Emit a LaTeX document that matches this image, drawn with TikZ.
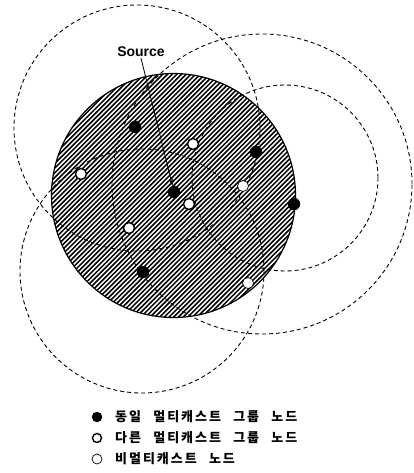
\documentclass[tikz,border=0pt]{standalone}
\usepackage{fontspec}
\usepackage{tikz}
\usetikzlibrary{arrows.meta}
\setsansfont{Liberation Sans}
\newfontfamily\kofont[LetterSpace=15,WordSpace=2.5]{Noto Sans CJK KR}

\begin{document}
\begin{tikzpicture}[
x=1pt, y=-1pt,
same/.style={circle, fill=black, draw=black, minimum size=12pt, inner sep=0pt},
other/.style={circle, fill=white, draw=black, line width=1.4pt, minimum size=11pt, inner sep=0pt},
nonmc/.style={circle, fill=white, draw=black, line width=0.7pt, minimum size=11pt, inner sep=0pt},
reach/.style={draw=black, line width=0.9pt, dash pattern=on 4pt off 3pt},
legtext/.style={anchor=west, inner sep=0pt, font=\kofont\bfseries\fontsize{13}{15}\selectfont}
]
\useasboundingbox (0,0) rectangle (414,473);
% source coverage (hatched)
\coordinate (hub) at (173.5,195.5);
\begin{scope}
\clip (hub) circle[radius=122pt];
\foreach \c in {190,194.7,...,552}
  \draw[line width=1.5pt] (\c-330,330) -- (\c-50,50);
\end{scope}
\draw[line width=1.2pt] (hub) circle[radius=122pt];
% neighbour ranges
\coordinate (ca) at (137,128);
\coordinate (cb) at (262,184);
\coordinate (cc) at (285,178);
\coordinate (cd) at (142,271);
\draw[reach] (ca) circle[radius=123pt];
\draw[reach] (cb) circle[radius=150pt];
\draw[reach] (cc) circle[radius=93pt];
\draw[reach] (cd) circle[radius=122pt];
% nodes
\node[same] (src) at (174,192) {};
\node[same] (s1) at (135,127) {};
\node[same] (s2) at (256,152) {};
\node[same] (s3) at (294,204) {};
\node[same] (s4) at (143,272) {};
\node[other] (o1) at (193,144) {};
\node[other] (o2) at (81,174) {};
\node[other] (o3) at (189,204) {};
\node[other] (o4) at (129,228) {};
\node[nonmc] (n1) at (243,186) {};
\node[nonmc] (n2) at (248,283) {};
% source label
\node[font=\sffamily\bfseries\fontsize{14}{16}\selectfont, inner sep=1pt] (lbl) at (141,52) {Source};
\draw[line width=0.8pt, -{Stealth[length=7pt,width=4pt]}] (lbl.south) -- (src);
% legend
\node[same, minimum size=10pt] (k1) at (97,417) {};
\node[other, minimum size=9pt] (k2) at (97,438) {};
\node[nonmc, minimum size=10pt] (k3) at (97,459) {};
\node[legtext] (t1) at (115,417) {동일 멀티캐스트 그룹 노드};
\node[legtext] (t2) at (115,438) {다른 멀티캐스트 그룹 노드};
\node[legtext] (t3) at (115,459) {비멀티캐스트 노드};
\end{tikzpicture}
\end{document}
